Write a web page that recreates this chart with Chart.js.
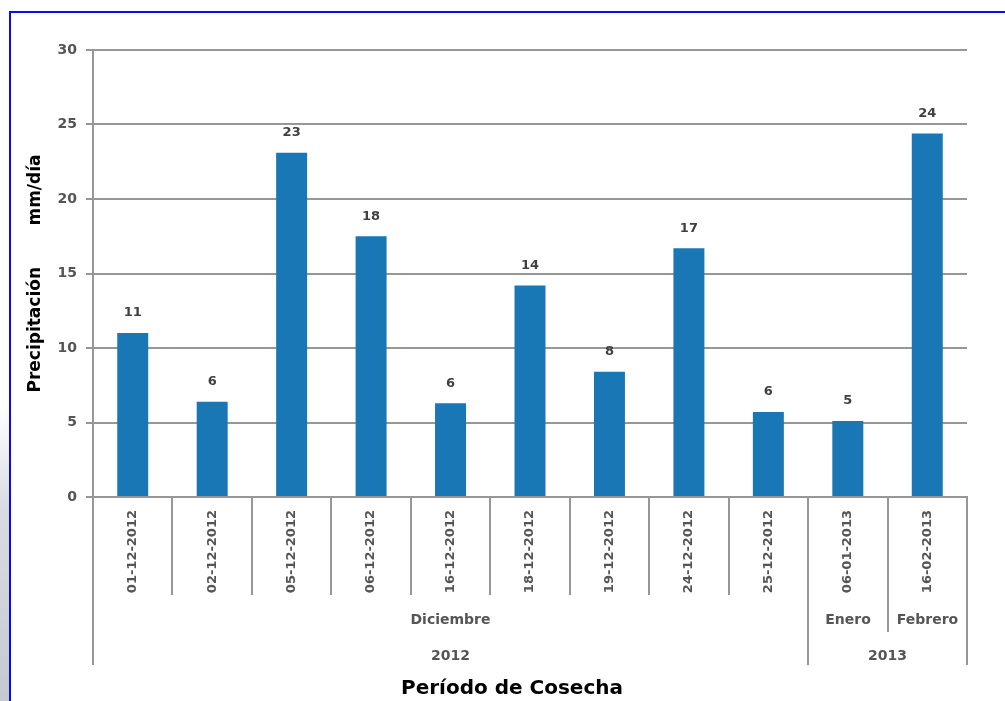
<!DOCTYPE html>
<html><head><meta charset="utf-8">
<script src="https://cdn.jsdelivr.net/npm/chart.js@4.4.0/dist/chart.umd.min.js"></script>
<style>
html,body{margin:0;padding:0;background:#fff;}
#wrap{position:relative;width:1005px;height:701px;overflow:hidden;background:#fff;}
#leftbg{position:absolute;left:0;top:0;width:9px;height:701px;background:linear-gradient(to bottom,#ffffff 0%,#ffffff 58%,#d9dde3 72%,#c4c9d1 100%);}
#frame{position:absolute;left:9px;top:11px;width:1100px;height:800px;border-left:2px solid #0a0af0;border-top:2px solid #0a0af0;}
canvas{position:absolute;left:0;top:0;}
</style></head>
<body><div id="wrap"><div id="leftbg"></div><div id="frame"></div><canvas id="c" width="1005" height="701"></canvas></div>
<script>
const dates = ['01-12-2012','02-12-2012','05-12-2012','06-12-2012','16-12-2012','18-12-2012','19-12-2012','24-12-2012','25-12-2012','06-01-2013','16-02-2013'];
const precipitation = [11.0, 6.4, 23.1, 17.5, 6.3, 14.2, 8.4, 16.7, 5.7, 5.1, 24.4];
const months = ['Diciembre','Enero','Febrero'];
const monthSpans = [9, 1, 1];
const years = ['2012','2013'];
const yearSpans = [9, 2];
const yMin = 0, yMax = 30, yStep = 5;
const yTitle = 'Precipitación       mm/día';
const xTitle = 'Período de Cosecha';

const GRID = '#979797';
const TEXT = '#555555';
const FONT = '"DejaVu Sans", sans-serif';

const multiLevel = {
  id: 'multiLevel',
  afterDraw(chart) {
    const ctx = chart.ctx, xs = chart.scales.x;
    const top = xs.top;
    const rowDate = top + 98, rowMonth = top + 135, rowYear = top + 168;
    const edge = i => Math.round(xs.getPixelForValue(i - 0.5));
    ctx.save();
    ctx.strokeStyle = GRID; ctx.lineWidth = 2;
    const line = (x, y1, y2) => { ctx.beginPath(); ctx.moveTo(x, y1); ctx.lineTo(x, y2); ctx.stroke(); };
    let idx = 0; const mb = [0]; monthSpans.forEach(s => { idx += s; mb.push(idx); });
    idx = 0; const yb = [0]; yearSpans.forEach(s => { idx += s; yb.push(idx); });
    mb.forEach(i => line(edge(i), rowDate, rowMonth));
    yb.forEach(i => line(edge(i), rowMonth, rowYear));
    ctx.fillStyle = TEXT; ctx.textAlign = 'center'; ctx.textBaseline = 'middle';
    ctx.font = 'bold 14px ' + FONT;
    months.forEach((m, k) => ctx.fillText(m, (edge(mb[k]) + edge(mb[k + 1])) / 2, top + 123));
    years.forEach((y, k) => ctx.fillText(y, (edge(yb[k]) + edge(yb[k + 1])) / 2, top + 159));
    // value labels
    ctx.fillStyle = '#404040';
    ctx.font = 'bold 13px ' + FONT;
    const meta = chart.getDatasetMeta(0);
    meta.data.forEach((bar, i) => ctx.fillText(String(Math.round(precipitation[i])), bar.x, bar.y - 20));
    // x title
    ctx.fillStyle = '#000';
    ctx.font = 'bold 20px ' + FONT;
    ctx.fillText(xTitle, 512, 689);
    ctx.restore();
  }
};

new Chart(document.getElementById('c'), {
  type: 'bar',
  data: {
    labels: dates,
    datasets: [{ data: precipitation, backgroundColor: '#1a77b6', borderWidth: 0, barPercentage: 0.39, categoryPercentage: 1.0 }]
  },
  options: {
    responsive: false,
    animation: false,
    layout: { padding: { left: 20, top: 50, right: 38, bottom: 0 } },
    plugins: { legend: { display: false }, tooltip: { enabled: false } },
    scales: {
      x: {
        afterFit(s) { s.height = 204; },
        grid: { offset: true, drawOnChartArea: false, drawTicks: true, tickLength: 98, color: GRID, lineWidth: 2 },
        border: { color: GRID, width: 2 },
        ticks: { autoSkip: false, minRotation: 90, maxRotation: 90, padding: -85, color: TEXT, font: { family: FONT, size: 13, weight: 'bold' } }
      },
      y: {
        min: yMin, max: yMax,
        afterFit(s) { s.width = 73; },
        grid: { color: GRID, lineWidth: 2, tickLength: 7 },
        border: { color: GRID, width: 2 },
        ticks: { stepSize: yStep, padding: 9, color: TEXT, font: { family: FONT, size: 14, weight: 'bold' } },
        title: { display: true, text: yTitle, color: '#000', padding: { top: 5, bottom: 0 }, font: { family: FONT, size: 17, weight: 'bold' } }
      }
    }
  },
  plugins: [multiLevel]
});
</script>
</body></html>
